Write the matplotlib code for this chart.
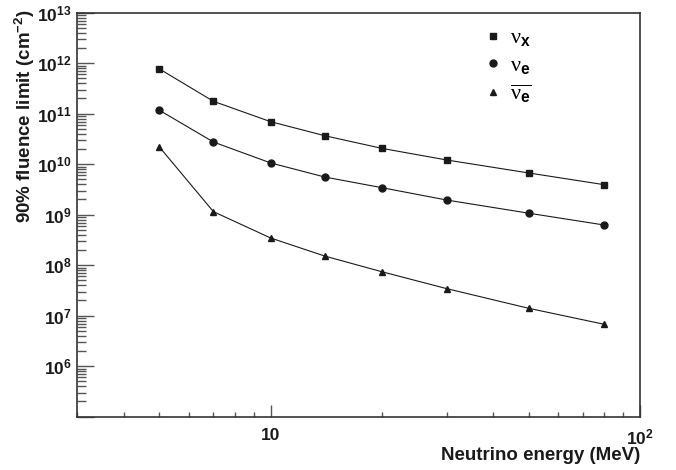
import math
import matplotlib
matplotlib.use('Agg')
import matplotlib.pyplot as plt
from matplotlib.ticker import LogLocator, FuncFormatter, NullFormatter

plt.rcParams['font.family'] = 'Liberation Sans'
plt.rcParams['font.weight'] = 'bold'
plt.rcParams['mathtext.fontset'] = 'custom'
plt.rcParams['mathtext.rm'] = 'Liberation Sans:bold'
plt.rcParams['mathtext.bf'] = 'Liberation Sans:bold'
plt.rcParams['mathtext.it'] = 'Liberation Serif:weight=normal'
plt.rcParams['mathtext.default'] = 'bf'

INK = '#1a1a1a'
AXC = '#333333'

# neutrino energies (MeV)
energy = [5, 7, 10, 14, 20, 30, 50, 80]
# 90% fluence limits (cm^-2)
lim_nux = [7.7e11, 1.76e11, 6.95e10, 3.67e10, 2.06e10, 1.21e10, 6.7e9, 3.93e9]
lim_nue = [1.17e11, 2.75e10, 1.06e10, 5.58e9, 3.43e9, 1.95e9, 1.07e9, 6.25e8]
lim_anue = [2.19e10, 1.15e9, 3.46e8, 1.52e8, 7.43e7, 3.43e7, 1.40e7, 6.76e6]


def ylab(v, pos):
    e = round(math.log10(v))
    if e < 6:
        return ''
    return r'$10^{%d}$' % e


def xlab(v, pos):
    e = round(math.log10(v))
    if e == 1:
        return '10'
    if e == 2:
        return r'$10^{2}$'
    return ''


fig = plt.figure(figsize=(6.76, 4.70), dpi=100)
ax = fig.add_axes([0.1146, 0.1134, 0.8321, 0.8596])

ax.plot(energy, lim_nux, '-s', color=INK, lw=0.8, ms=4.6, label=r'$\mathit{\nu}_{\mathbf{x}}$')
ax.plot(energy, lim_nue, '-o', color=INK, lw=0.8, ms=5.0, label=r'$\mathit{\nu}_{\mathbf{e}}$')
ax.plot(energy, lim_anue, '-^', color=INK, lw=0.8, ms=5.0, label=r'$\overline{\mathit{\nu}_{\mathbf{e}}}$')

ax.set_xscale('log')
ax.set_yscale('log')
ax.set_xlim(3, 100)
ax.set_ylim(1e5, 1e13)

ax.yaxis.set_major_locator(LogLocator(base=10, numticks=20))
ax.yaxis.set_minor_locator(LogLocator(base=10, subs=range(2, 10), numticks=200))
ax.yaxis.set_major_formatter(FuncFormatter(ylab))
ax.yaxis.set_minor_formatter(NullFormatter())

ax.xaxis.set_major_locator(LogLocator(base=10, numticks=20))
ax.xaxis.set_minor_locator(LogLocator(base=10, subs=range(2, 10), numticks=200))
ax.xaxis.set_major_formatter(FuncFormatter(xlab))
ax.xaxis.set_minor_formatter(NullFormatter())

ax.tick_params(axis='y', which='major', direction='in', length=12, width=1.0, color='#555555',
               labelsize=12.5, pad=4, labelcolor=INK)
ax.tick_params(axis='y', which='minor', direction='in', length=6.3, width=1.0, color='#555555')
ax.tick_params(axis='x', which='major', direction='in', length=8.6, width=1.0, color='#555555',
               labelsize=12.5, pad=8, labelcolor=INK)
ax.tick_params(axis='x', which='minor', direction='in', length=3.6, width=1.0, color='#555555')

for sp in ax.spines.values():
    sp.set_color(AXC)
    sp.set_linewidth(1.2)

fig.text(0.947, 0.030, 'Neutrino energy (MeV)', ha='right', va='center',
         fontsize=13.5, color=INK)
fig.text(0.037, 0.981, r'90% fluence limit (cm$^{-2}$)', ha='center', va='top',
         rotation=90, fontsize=13.5, color=INK)

leg = ax.legend(loc='upper left', bbox_to_anchor=(0.692, 1.012), frameon=False,
                fontsize=16, handlelength=0.6, handletextpad=0.45, labelspacing=0.25,
                numpoints=1)
for h in leg.legend_handles:
    h.set_linestyle('none')

fig.savefig('out.png', dpi=100)
